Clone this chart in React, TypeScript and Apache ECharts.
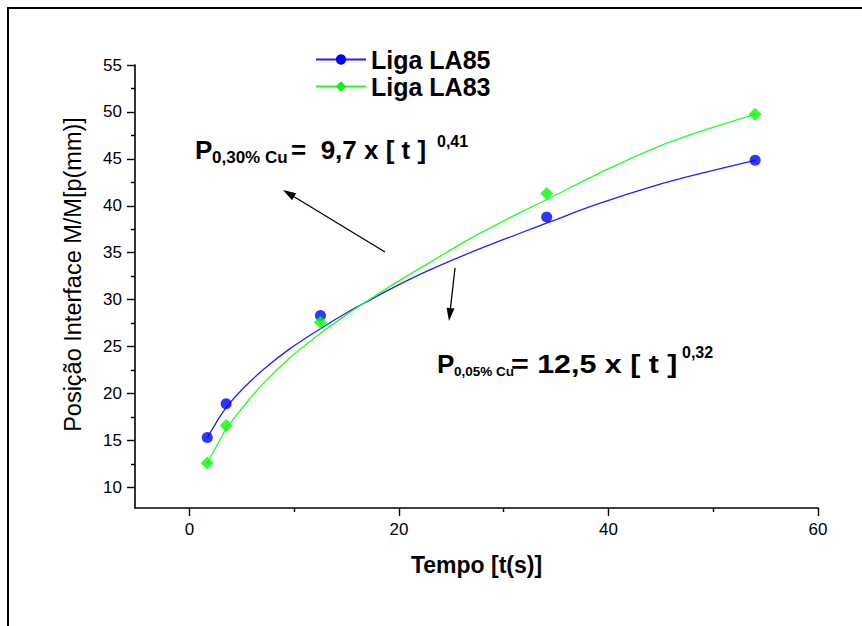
import React, { useEffect, useRef } from "react";
import * as echarts from "echarts";

// ---- data ----
const seriesNames = ["Liga LA85", "Liga LA83"];
const sampleTime = [1.7, 3.5, 12.5, 34.1, 54];
const pointsLA85 = [15.3, 18.9, 28.3, 38.8, 44.85];
const pointsLA83 = [12.6, 16.6, 27.6, 41.3, 49.75];
const fitTime = [1.7, 2.5, 3.5, 5, 7, 9.5, 12.5, 15, 17.3, 20, 23, 26.8, 31.6, 34.2, 39, 44.3, 49, 54];
const fitLA85 = [15.3, 16.8, 18.5, 20.4, 22.5, 24.7, 26.9, 28.6, 30.0, 31.6, 33.2, 35.0, 37.1, 38.2, 40.2, 42.1, 43.5, 44.85];
const fitLA83 = [12.6, 14.2, 16.2, 18.4, 21.0, 23.7, 26.4, 28.4, 30.1, 32.0, 34.0, 36.5, 39.3, 40.7, 43.4, 46.1, 48.0, 49.75];
const xTicks = [0, 20, 40, 60];
const xMinorTicks = [10, 30, 50];
const yTicks = [10, 15, 20, 25, 30, 35, 40, 45, 50, 55];
const yMinorTicks = [12.5, 17.5, 22.5, 27.5, 32.5, 37.5, 42.5, 47.5, 52.5];
const xAxisName = "Tempo [t(s)]";
const yAxisName = "Posição Interface M/M[p(mm)]";

const FONT = "'Liberation Sans', Arial, sans-serif";
const BLUE = "#0000ff";
const GREEN = "#00ff00";

function pairs(xs: number[], ys: number[]) {
  return xs.map((x, i) => [x, ys[i]]);
}

function arrow(x1: number, y1: number, x2: number, y2: number) {
  const dx = x2 - x1;
  const dy = y2 - y1;
  const L = Math.sqrt(dx * dx + dy * dy);
  const ux = dx / L;
  const uy = dy / L;
  const len = 13;
  const half = 4;
  const bx = x2 - ux * len;
  const by = y2 - uy * len;
  return [
    {
      type: "line",
      shape: { x1, y1, x2: bx, y2: by },
      style: { stroke: "#000", lineWidth: 1.3 },
      z: 50,
    },
    {
      type: "polygon",
      shape: {
        points: [
          [x2, y2],
          [bx - uy * half, by + ux * half],
          [bx + uy * half, by - ux * half],
        ],
      },
      style: { fill: "#000" },
      z: 50,
    },
  ];
}

function txt(text: string, x: number, y: number, size: number, scaleX = 1) {
  return {
    type: "text",
    x,
    y,
    scaleX,
    z: 60,
    style: {
      text,
      fontSize: size,
      fontWeight: "bold",
      fontFamily: FONT,
      fill: "#000",
      align: "left",
      verticalAlign: "middle",
    },
  };
}

export default function App() {
  const ref = useRef<HTMLDivElement>(null);

  useEffect(() => {
    if (!ref.current) return;
    const chart = echarts.init(ref.current, null, { renderer: "svg" });

    const axisLine = { show: true, onZero: false, lineStyle: { color: "#000", width: 1.6 } };

    chart.setOption({
      animation: false,
      backgroundColor: "#fff",
      textStyle: { fontFamily: FONT },
      grid: { left: 135, right: 44, top: 65, bottom: 118, containLabel: false },
      legend: {
        data: seriesNames,
        orient: "vertical",
        left: 310,
        top: 42,
        itemWidth: 50,
        itemHeight: 13,
        itemGap: 2,
        textStyle: { fontSize: 25, fontWeight: "bold", color: "#000", fontFamily: FONT },
      },
      xAxis: [
        {
          type: "value",
          min: -5.2,
          max: 60,
          position: "bottom",
          axisLine,
          splitLine: { show: false },
          axisTick: { show: true, length: 8, lineStyle: { color: "#000", width: 1.4 }, customValues: xTicks },
          axisLabel: { customValues: xTicks, fontSize: 17, color: "#000", margin: 13, fontFamily: FONT },
          name: xAxisName,
          nameLocation: "middle",
          nameGap: 45,
          nameTextStyle: { fontSize: 23, fontWeight: "bold", color: "#000", fontFamily: FONT },
        },
        {
          type: "value",
          min: -5.2,
          max: 60,
          position: "bottom",
          axisLine: { show: false, onZero: false },
          splitLine: { show: false },
          axisTick: { show: true, length: 4, lineStyle: { color: "#000", width: 1.4 }, customValues: xMinorTicks },
          axisLabel: { show: false },
        },
      ],
      yAxis: [
        {
          type: "value",
          min: 7.8,
          max: 55,
          position: "left",
          axisLine,
          splitLine: { show: false },
          axisTick: { show: true, length: 8, lineStyle: { color: "#000", width: 1.4 }, customValues: yTicks },
          axisLabel: { customValues: yTicks, fontSize: 17, color: "#000", margin: 13, fontFamily: FONT },
          name: yAxisName,
          nameLocation: "middle",
          nameGap: 50,
          nameTextStyle: { fontSize: 23.5, color: "#000", fontFamily: FONT, padding: [0, 0, 0, 24] },
        },
        {
          type: "value",
          min: 7.8,
          max: 55,
          position: "left",
          axisLine: { show: false, onZero: false },
          splitLine: { show: false },
          axisTick: { show: true, length: 4, lineStyle: { color: "#000", width: 1.4 }, customValues: yMinorTicks },
          axisLabel: { show: false },
        },
      ],
      series: [
        {
          name: seriesNames[0],
          type: "line",
          xAxisIndex: 0,
          yAxisIndex: 0,
          data: pairs(fitTime, fitLA85),
          smooth: 0.4,
          symbol: "circle",
          symbolSize: 11,
          showSymbol: false,
          lineStyle: { color: "#2020ff", width: 1.3 },
          itemStyle: { color: BLUE },
          z: 3,
        },
        {
          name: seriesNames[1],
          type: "line",
          xAxisIndex: 0,
          yAxisIndex: 0,
          data: pairs(fitTime, fitLA83),
          smooth: 0.4,
          symbol: "diamond",
          symbolSize: 13,
          showSymbol: false,
          lineStyle: { color: "#20ff20", width: 1.3 },
          itemStyle: { color: GREEN },
          z: 3,
        },
        {
          name: "LA85 pontos",
          type: "scatter",
          data: pairs(sampleTime, pointsLA85),
          symbol: "circle",
          symbolSize: 11,
          itemStyle: { color: BLUE },
          z: 4,
        },
        {
          name: "LA83 pontos",
          type: "scatter",
          data: pairs(sampleTime, pointsLA83),
          symbol: "diamond",
          symbolSize: 13,
          itemStyle: { color: GREEN },
          z: 4,
        },
      ],
      graphic: [
        {
          type: "rect",
          shape: { x: 8, y: 8, width: 900, height: 700 },
          style: { fill: "none", stroke: "#000", lineWidth: 2 },
          z: 1,
        },
        ...arrow(385, 252, 283, 190),
        ...arrow(455, 268, 449, 321),
        txt("P", 195, 150, 26),
        txt("0,30% Cu", 212, 157, 17),
        txt("=  9,7 x [ t ]", 291, 150, 26),
        txt("0,41", 437, 141, 16),
        txt("P", 437, 364, 26),
        txt("0,05% Cu", 454, 371, 13.5),
        txt("= 12,5 x [ t ]", 511, 364, 26, 1.17),
        txt("0,32", 682, 352, 16),
      ],
    });

    return () => chart.dispose();
  }, []);

  return (
    <div
      ref={ref}
      style={{ position: "fixed", left: 0, top: 0, width: 862, height: 626 }}
    />
  );
}
